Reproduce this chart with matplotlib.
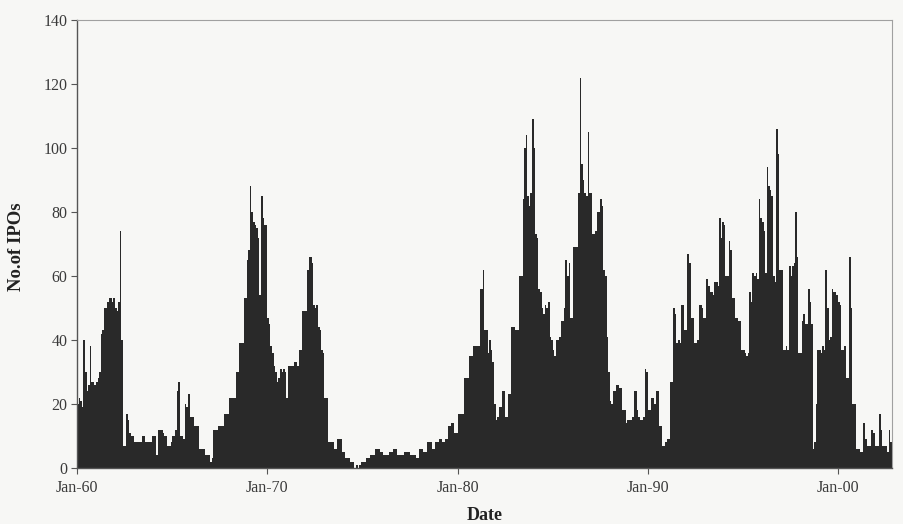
import matplotlib.pyplot as plt
import numpy as np

# monthly IPO counts, Jan 1960 onwards, one list per decade
ipos_1960s = [
    20, 22, 21, 19, 40, 30, 24, 26, 38, 27, 27, 26,
    27, 28, 30, 42, 43, 50, 50, 52, 53, 53, 52, 53,
    50, 49, 52, 74, 40, 7, 7, 17, 15, 11, 10, 10,
    8, 8, 8, 8, 8, 10, 10, 8, 8, 8, 8, 10,
    10, 10, 4, 12, 12, 12, 11, 10, 10, 7, 7, 8,
    10, 10, 12, 24, 27, 10, 10, 9, 20, 19, 23, 16,
    16, 16, 13, 13, 13, 6, 6, 6, 6, 4, 4, 4,
    2, 3, 12, 12, 12, 13, 13, 13, 13, 17, 17, 17,
    22, 22, 22, 22, 30, 30, 39, 39, 39, 53, 53, 65,
    68, 88, 80, 77, 76, 75, 72, 54, 85, 78, 76, 76,
]
ipos_1970s = [
    47, 45, 38, 36, 32, 30, 27, 28, 31, 30, 31, 30,
    22, 32, 32, 32, 32, 33, 33, 32, 37, 37, 49, 49,
    49, 62, 66, 66, 64, 51, 50, 51, 44, 43, 37, 36,
    22, 22, 8, 8, 8, 8, 6, 6, 9, 9, 9, 5,
    5, 3, 3, 3, 2, 2, 2, 0, 1, 0, 1, 2,
    2, 2, 3, 3, 3, 4, 4, 4, 6, 6, 6, 5,
    5, 4, 4, 4, 4, 5, 5, 6, 6, 6, 4, 4,
    4, 4, 5, 5, 5, 5, 4, 4, 4, 4, 3, 3,
    6, 6, 5, 5, 5, 8, 8, 8, 6, 6, 8, 8,
    9, 9, 8, 8, 9, 9, 13, 13, 14, 14, 11, 11,
]
ipos_1980s = [
    17, 17, 17, 17, 28, 28, 28, 35, 35, 35, 38, 38,
    38, 38, 56, 56, 62, 43, 43, 36, 40, 37, 33, 20,
    15, 16, 19, 19, 24, 24, 16, 16, 23, 23, 44, 44,
    43, 43, 43, 60, 60, 84, 100, 104, 85, 82, 86, 109,
    100, 73, 72, 56, 55, 50, 48, 51, 50, 52, 41, 40,
    37, 35, 40, 40, 41, 46, 46, 50, 65, 60, 64, 47,
    47, 69, 69, 69, 86, 122, 95, 90, 86, 85, 105, 86,
    86, 73, 73, 74, 80, 80, 84, 82, 62, 60, 41, 30,
    21, 20, 24, 24, 26, 26, 25, 25, 18, 18, 14, 15,
    15, 15, 16, 24, 24, 18, 16, 15, 15, 16, 31, 30,
]
ipos_1990s = [
    18, 18, 22, 22, 20, 24, 24, 13, 13, 7, 7, 8,
    9, 9, 27, 27, 50, 48, 39, 40, 39, 51, 51, 43,
    43, 67, 64, 47, 47, 39, 39, 40, 51, 51, 50, 47,
    47, 59, 57, 55, 55, 54, 58, 58, 57, 78, 72, 77,
    76, 60, 60, 71, 68, 53, 53, 47, 47, 46, 46, 37,
    37, 36, 35, 36, 55, 52, 61, 60, 61, 59, 84, 78,
    77, 74, 61, 94, 88, 87, 85, 60, 58, 106, 98, 62,
    62, 37, 37, 38, 37, 63, 60, 63, 64, 80, 66, 36,
    36, 46, 48, 45, 45, 56, 52, 45, 6, 8, 20, 37,
    37, 36, 38, 37, 62, 50, 40, 41, 56, 55, 55, 54,
]
ipos_2000s = [
    52, 51, 37, 37, 38, 28, 28, 66, 50, 20, 20, 6,
    6, 6, 5, 5, 14, 9, 7, 7, 7, 12, 11, 7,
    7, 7, 17, 12, 7, 7, 7, 5, 12, 8,
]
decade_labels = ["Jan-60", "Jan-70", "Jan-80", "Jan-90", "Jan-00"]

monthly_ipos = ipos_1960s + ipos_1970s + ipos_1980s + ipos_1990s + ipos_2000s
months = np.arange(len(monthly_ipos))

plt.rcParams["font.family"] = ["Liberation Serif", "DejaVu Serif"]

paper = "#f7f7f5"
fig = plt.figure(figsize=(9.04, 5.24), dpi=100, facecolor=paper)
ax = fig.add_axes([0.0852, 0.1069, 0.9015, 0.8549])
ax.set_facecolor(paper)

ax.bar(months, monthly_ipos, width=1.0, align="edge", color="#292929", linewidth=0)

ax.set_xlim(0, len(monthly_ipos))
ax.set_ylim(0, 140)
ax.set_yticks(range(0, 141, 20))
ax.set_xticks(np.arange(len(decade_labels)) * 120)
ax.set_xticklabels(decade_labels)

ax.tick_params(axis="both", direction="out", length=4, width=0.8,
               color="#555555", labelcolor="#3a3a3a", labelsize=11.5)
ax.tick_params(axis="x", pad=5)
ax.tick_params(axis="y", pad=3)

for side in ("left", "bottom"):
    ax.spines[side].set_color("#555555")
    ax.spines[side].set_linewidth(1.0)
for side in ("top", "right"):
    ax.spines[side].set_color("#a0a0a0")
    ax.spines[side].set_linewidth(0.8)

ax.set_xlabel("Date", fontsize=13, fontweight="bold", color="#222222", va="center")
ax.xaxis.set_label_coords(0.5, -0.105)
ax.set_ylabel("No.of IPOs", fontsize=13.5, fontweight="bold", color="#222222", va="center")
ax.yaxis.set_label_coords(-0.074, 0.495)

fig.savefig("out.png", dpi=100, facecolor=paper)
